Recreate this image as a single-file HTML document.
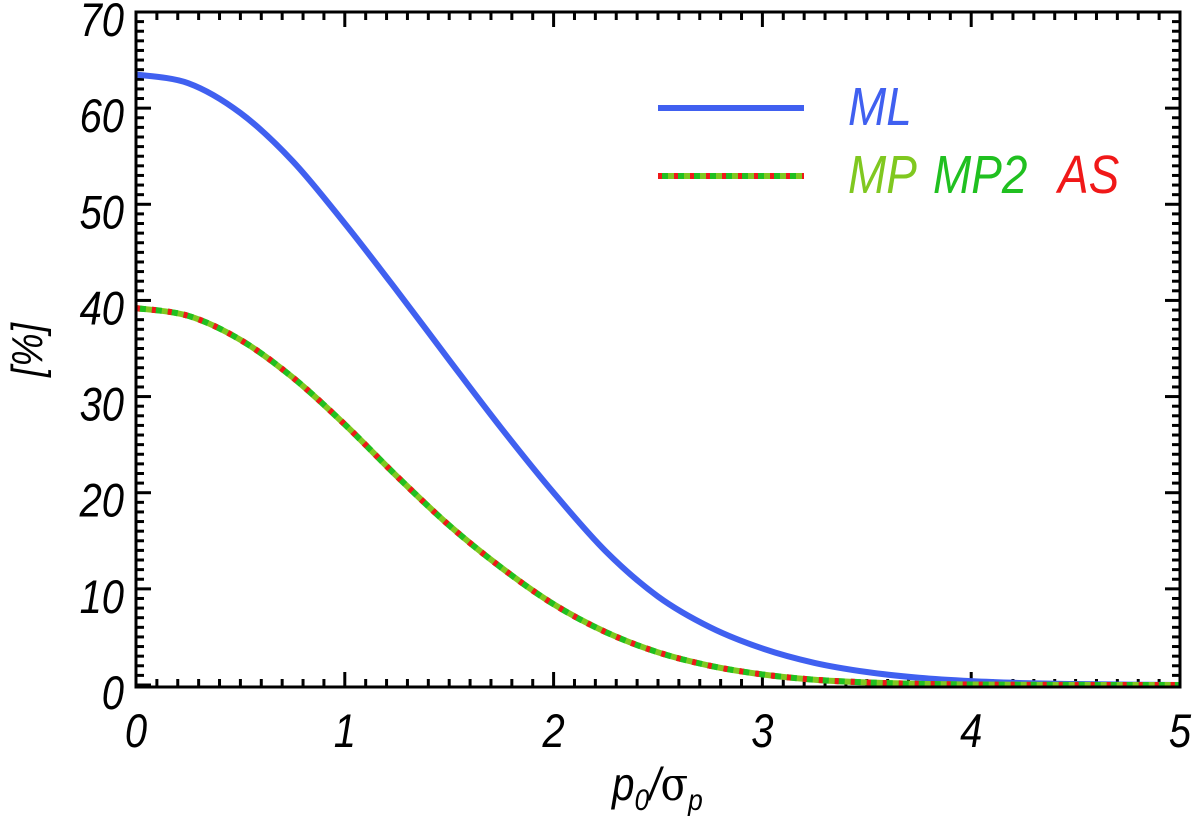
<!DOCTYPE html>
<html><head><meta charset="utf-8"><style>
html,body{margin:0;padding:0;background:#fff;width:1200px;height:819px;overflow:hidden}
svg text{font-family:"Liberation Sans",sans-serif;font-style:italic}
</style></head><body>
<svg id="chart" width="1200" height="819" viewBox="0 0 1200 819" xmlns="http://www.w3.org/2000/svg">
<g id="ticks"></g>
<g id="series"></g>
<rect x="136" y="12" width="1044" height="675" fill="none" stroke="#000" stroke-width="3"/>
<g id="labels"></g>
<text transform="translate(42,350) rotate(-90) scale(0.85,1)" text-anchor="middle" font-size="44">[%]</text>
<text transform="translate(612,800) scale(0.88,1)" font-size="46">p<tspan font-size="30" dy="10">0</tspan><tspan dy="-10">/</tspan><tspan font-style="normal" font-family="DejaVu Serif, serif">σ</tspan><tspan font-size="30" dy="10">p</tspan></text>
<g>
<line x1="658" y1="108" x2="804" y2="108" stroke="#4060f0" stroke-width="6"/>
<text transform="translate(848,125) scale(0.85,1)" font-size="54" fill="#4060f0">ML</text>
<line x1="658" y1="176" x2="804" y2="176" stroke="#80c820" stroke-width="6"/>
<line x1="658" y1="176" x2="804" y2="176" stroke="#20c020" stroke-width="6" stroke-dasharray="10 6"/>
<line x1="658" y1="176" x2="804" y2="176" stroke="#f01818" stroke-width="6" stroke-dasharray="4 12"/>
<text transform="translate(848,193) scale(0.85,1)" font-size="54" fill="#80c820">MP</text>
<text transform="translate(933,193) scale(0.85,1)" font-size="54" fill="#20c020">MP2</text>
<text transform="translate(1058,193) scale(0.85,1)" font-size="54" fill="#f01818">AS</text>
</g>
</svg>
<script>
const xs = [0,0.25,0.5,0.75,1,1.25,1.5,1.75,2,2.25,2.5,2.75,3,3.25,3.5,3.75,4,4.25,4.5,4.75,5];
const mlValues = [63.5,62.6,59.5,54.5,48.0,41.0,33.8,26.7,20.0,13.9,9.2,6.0,3.8,2.3,1.35,0.75,0.4,0.2,0.1,0.04,0];
const mpValues = [39.2,38.4,35.9,32.0,27.1,21.7,16.6,12.2,8.4,5.5,3.4,2.0,1.1,0.55,0.27,0.12,0.05,0.02,0.01,0,0];
const xTicks = [0,1,2,3,4,5];
const yTicks = [0,10,20,30,40,50,60,70];
const X0=136,X1=1180,Y0=685,Ytop=12;
function sx(v){return X0+(X1-X0)*v/5;}
function sy(v){return Y0-(Y0-Ytop)*v/70;}
const NS="http://www.w3.org/2000/svg";
function mk(t,a,p){const e=document.createElementNS(NS,t);for(const k in a)e.setAttribute(k,a[k]);p.appendChild(e);return e;}
const tg=document.getElementById('ticks'),lg=document.getElementById('labels'),sg=document.getElementById('series');
for(let i=0;i<=50;i++){const v=i/10,x=sx(v),L=i%10===0?15:8;
 const a=mk('line',{x1:x,y1:687,x2:x,y2:687-L,stroke:'#000','stroke-width':3},tg);
 
 
 const b=mk('line',{x1:x,y1:12,x2:x,y2:12+L,stroke:'#000','stroke-width':3},tg);
 
 }
for(let i=0;i<=70;i++){const y=sy(i),L=i%10===0?15:8;
 const a=mk('line',{x1:136,y1:y,x2:136+L,y2:y,stroke:'#000','stroke-width':3},tg);
 
 
 const b=mk('line',{x1:1180,y1:y,x2:1180-L,y2:y,stroke:'#000','stroke-width':3},tg);
 
 }
xTicks.forEach(v=>{const t=mk('text',{x:0,y:0,transform:'translate('+sx(v)+',747) scale(0.85,1)','text-anchor':'middle','font-size':47},lg);t.textContent=v;
 
 });
yTicks.forEach(v=>{const t=mk('text',{x:0,y:0,transform:'translate(124,'+(sy(v)+24)+') scale(0.85,1)','text-anchor':'end','font-size':47},lg);t.textContent=v;
 
 });
function path(vals){const p=xs.map((x,i)=>[sx(x),sy(vals[i])]);let d='M'+p[0][0]+','+p[0][1];
 for(let i=0;i<p.length-1;i++){const p0=p[Math.max(0,i-1)],p1=p[i],p2=p[i+1],p3=p[Math.min(p.length-1,i+2)];
  d+=' C'+(p1[0]+(p2[0]-p0[0])/6)+','+(p1[1]+(p2[1]-p0[1])/6)+' '+(p2[0]-(p3[0]-p1[0])/6)+','+(p2[1]-(p3[1]-p1[1])/6)+' '+p2[0]+','+p2[1];}
 return d;}
const ml=mk('path',{d:path(mlValues),fill:'none',stroke:'#4060f0','stroke-width':6},sg);


const mp=mk('path',{d:path(mpValues),fill:'none',stroke:'#80c820','stroke-width':6},sg);


const mp2=mk('path',{d:path(mpValues),fill:'none',stroke:'#20c020','stroke-width':6,'stroke-dasharray':'10 6'},sg);


const as=mk('path',{d:path(mpValues),fill:'none',stroke:'#f01818','stroke-width':6,'stroke-dasharray':'4 12'},sg);


</script>
</body></html>
